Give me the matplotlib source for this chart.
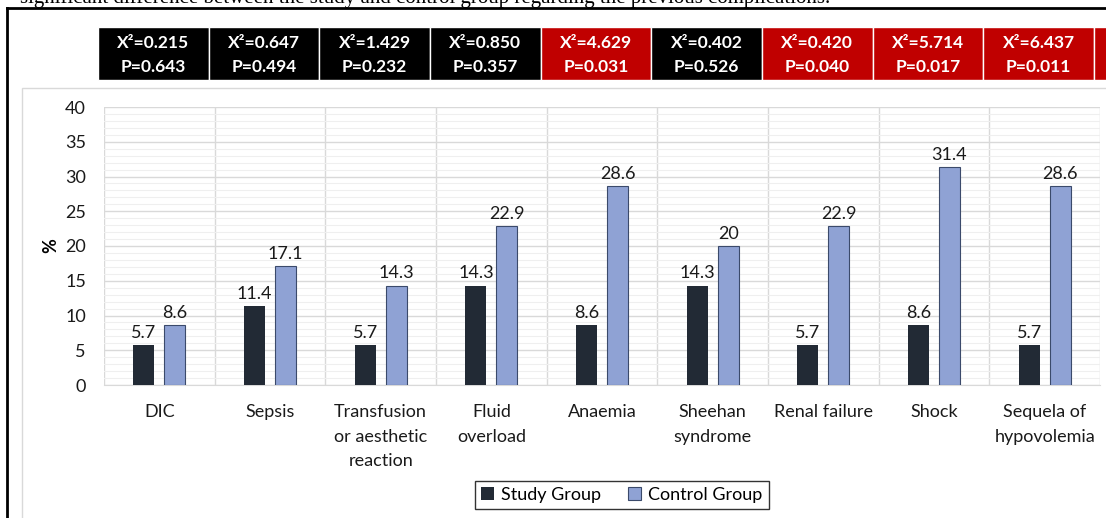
import matplotlib.pyplot as plt
import matplotlib.transforms as mtransforms
from matplotlib.patches import Rectangle
from matplotlib.lines import Line2D
import numpy as np

categories = ["DIC", "Sepsis", "Transfusion\nor aesthetic\nreaction", "Fluid\noverload",
              "Anaemia", "Sheehan\nsyndrome", "Renal failure", "Shock",
              "Sequela of\nhypovolemia"]
study = [5.7, 11.4, 5.7, 14.3, 8.6, 14.3, 5.7, 8.6, 5.7]
control = [8.6, 17.1, 14.3, 22.9, 28.6, 20, 22.9, 31.4, 28.6]
chi2 = ["0.215", "0.647", "1.429", "0.850", "4.629", "0.402", "0.420", "5.714", "6.437"]
pvals = ["0.643", "0.494", "0.232", "0.357", "0.031", "0.526", "0.040", "0.017", "0.011"]

STUDY_C = "#222A35"
CTRL_C = "#8FA2D4"
RED = "#C00000"
FONT = "Lato"
FS = 13

W, H = 1106, 518
fig = plt.figure(figsize=(W / 100, H / 100), dpi=100)
fig.patch.set_facecolor("white")

def fx(px): return px / W
def fy(py): return 1 - py / H

# document frame + cut-off caption line (cut in the original too)
fig.add_artist(Line2D([fx(7), 1], [fy(8), fy(8)], color="black", lw=2))
fig.add_artist(Line2D([fx(7), fx(7)], [fy(8), 0], color="black", lw=2))
fig.text(fx(20), fy(3), "significant difference between the study and control group regarding the previous complications.",
         family="Liberation Serif", fontsize=15, va="baseline", ha="left")
# chart area border
fig.add_artist(Rectangle((fx(22), -0.05), 1.1, fy(88) + 0.05, transform=fig.transFigure,
                         facecolor="none", edgecolor="#D9D9D9", lw=1))

ax = fig.add_axes([fx(104), fy(385), fx(1100) - fx(104), fy(107) - fy(385)])
x = np.arange(len(categories))
w = 0.19
ax.bar(x - 0.14, study, width=w, color=STUDY_C, zorder=3)
ax.bar(x + 0.14, control, width=w, color=CTRL_C, edgecolor="#3B4A6B", lw=0.8, zorder=3)

for i in range(len(categories)):
    ax.text(x[i] - 0.14, study[i] + 0.6, f"{study[i]:g}", ha="center", va="bottom",
            fontsize=FS, family=FONT, color="#1a1a1a")
    ax.text(x[i] + 0.14, control[i] + 0.6, f"{control[i]:g}", ha="center", va="bottom",
            fontsize=FS, family=FONT, color="#1a1a1a")

ax.set_xlim(-0.5, len(categories) - 0.5)
ax.set_ylim(0, 40)
ax.set_yticks(np.arange(0, 41, 5))
ax.set_yticks(np.arange(0, 41, 1), minor=True)
ax.set_xticks(x)
ax.set_xticklabels(categories, fontsize=FS, family=FONT, linespacing=1.65, va="top")
ax.tick_params(axis="both", length=0, which="both", colors="#1a1a1a")
ax.tick_params(axis="x", pad=14)
ax.tick_params(axis="y", pad=13)
for lab in ax.get_yticklabels():
    lab.set_family(FONT)
    lab.set_fontsize(FS)
ax.grid(axis="y", which="major", color="#D9D9D9", lw=1, zorder=0)
ax.grid(axis="y", which="minor", color="#EFEFEF", lw=0.8, zorder=0)
for b in np.arange(-0.5, len(categories), 1):
    ax.axvline(b, color="#D9D9D9", lw=1, zorder=0)
for s in ["top", "right", "left"]:
    ax.spines[s].set_visible(False)
ax.spines["bottom"].set_color("#D9D9D9")
ax.set_ylabel("%", fontsize=FS, fontweight="bold", family=FONT, labelpad=4)

# chi-square boxes above the categories
tr = mtransforms.blended_transform_factory(ax.transData, fig.transFigure)
y0, y1 = fy(80), fy(27)
for i in range(len(categories) + 1):
    sig = i >= len(categories) or float(pvals[i]) < 0.05
    ax.add_patch(Rectangle((i - 0.555, y0), 1.0, y1 - y0, transform=tr,
                           facecolor=RED if sig else "black", edgecolor="white",
                           lw=1, clip_on=False, zorder=5))
    if i < len(categories):
        ax.text(i - 0.055, fy(43), f"X²={chi2[i]}", transform=tr, ha="center", va="center",
                color="white", fontsize=12.5, fontweight="bold", family=FONT, zorder=6, clip_on=False)
        ax.text(i - 0.055, fy(67), f"P={pvals[i]}", transform=tr, ha="center", va="center",
                color="white", fontsize=12.5, fontweight="bold", family=FONT, zorder=6, clip_on=False)

handles = [Rectangle((0, 0), 1, 1, facecolor=STUDY_C),
           Rectangle((0, 0), 1, 1, facecolor=CTRL_C, edgecolor="#3B4A6B", lw=0.8)]
leg = fig.legend(handles, ["Study Group", "Control Group"], loc="center",
                 bbox_to_anchor=(fx(622), fy(495)), ncol=2, frameon=True, fancybox=False,
                 prop={"family": FONT, "size": FS}, handlelength=0.7, handleheight=0.7,
                 handletextpad=0.4, columnspacing=1.5, borderpad=0.35)
leg.get_frame().set_edgecolor("black")
leg.get_frame().set_linewidth(1)

fig.savefig("out.png", dpi=100)
